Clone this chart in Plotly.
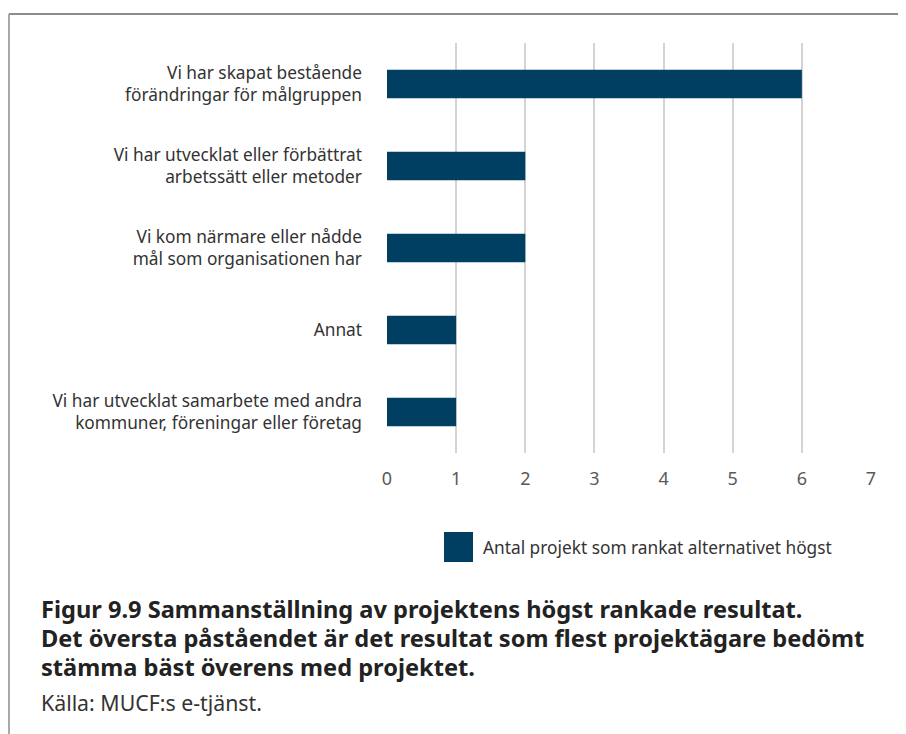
import plotly.graph_objects as go

# data
categories = [
    "Vi har skapat bestående<br>förändringar för målgruppen",
    "Vi har utvecklat eller förbättrat<br>arbetssätt eller metoder",
    "Vi kom närmare eller nådde<br>mål som organisationen har",
    "Annat",
    "Vi har utvecklat samarbete med andra<br>kommuner, föreningar eller företag",
]
values = [6, 2, 2, 1, 1]
series_name = "Antal projekt som rankat alternativet högst"
x_ticks = [0, 1, 2, 3, 4, 5, 6, 7]
caption_lines = [
    "Figur 9.9 Sammanställning av projektens högst rankade resultat.",
    "Det översta påståendet är det resultat som flest projektägare bedömt",
    "stämma bäst överens med projektet.",
]
source_text = "Källa: MUCF:s e-tjänst."

W, H = 906, 734
OFF = 8  # page body margin
L, R, T, B = 387 - OFF, 871 - OFF, 43 - OFF, 453 - OFF
BAR = "#003f62"
FONT = "Noto Sans"


def px(x):
    return (x - OFF - L) / (R - L)


def py(y):
    return (B - (y - OFF)) / (B - T)


fig = go.Figure()
fig.add_trace(go.Bar(
    x=values, y=categories, orientation="h", name=series_name,
    marker=dict(color=BAR, line=dict(width=0)), showlegend=False,
))

fig.update_layout(
    width=W, height=H,
    margin=dict(l=L, r=W - R, t=T, b=H - B, autoexpand=False),
    paper_bgcolor="white", plot_bgcolor="white",
    font=dict(family=FONT, color="#333333"),
    bargap=0.65,
    xaxis=dict(range=[0, 7], tickvals=x_ticks, showgrid=True,
               gridcolor="#d4d4d4", gridwidth=1.5, zeroline=False,
               showline=False, ticklabelstandoff=13,
               tickfont=dict(size=18, color="#595959")),
    yaxis=dict(autorange="reversed", showgrid=False, showline=False,
               ticklabelstandoff=24, tickfont=dict(size=17.3, color="#333333")),
)

# frame
fig.add_shape(type="line", xref="paper", yref="paper",
              x0=px(9), x1=px(920), y0=py(14), y1=py(14),
              line=dict(color="#8c8c8c", width=2))
fig.add_shape(type="line", xref="paper", yref="paper",
              x0=px(9), x1=px(9), y0=py(14), y1=py(750),
              line=dict(color="#8c8c8c", width=1.5))

# legend
fig.add_shape(type="rect", xref="paper", yref="paper",
              x0=px(444), x1=px(473), y0=py(532), y1=py(562),
              fillcolor=BAR, line=dict(width=0))
fig.add_annotation(text=series_name, xref="paper", yref="paper",
                   x=px(481), y=py(547), xanchor="left", yanchor="middle",
                   showarrow=False, font=dict(size=17.3, color="#333333"))

# caption
for i, line in enumerate(caption_lines):
    fig.add_annotation(text="<b>" + line + "</b>", xref="paper", yref="paper",
                       x=px(39), y=py(609 + 29 * i), xanchor="left",
                       yanchor="middle", showarrow=False,
                       font=dict(size=23.6, color="#222222"))
fig.add_annotation(text=source_text, xref="paper", yref="paper",
                   x=px(39), y=py(702), xanchor="left", yanchor="middle",
                   showarrow=False, font=dict(size=21.3, color="#333333"))

fig.write_html("out.html")
